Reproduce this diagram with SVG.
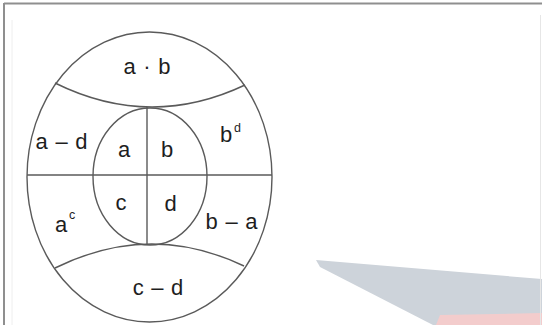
<svg xmlns="http://www.w3.org/2000/svg" width="542" height="325" viewBox="0 0 542 325">
<style>
.ln{fill:none;stroke:#5a5a5a;stroke-width:1.4}
.t{font-family:"Liberation Sans",Arial,sans-serif;font-size:22px;fill:#1e1e1e;text-anchor:middle}
.w{word-spacing:1.5px}
.sup{font-family:"Liberation Sans",Arial,sans-serif;font-size:12.5px;fill:#1e1e1e}
</style>
<rect width="542" height="325" fill="#fff"/>
<g id="backdrop">
<polygon points="316,260 542,279 542,325 433,325 320,267" fill="#cdd3da"/>
<polygon points="440,315 542,313 542,325 436,325" fill="#f3cccc"/>
</g>
<g id="frame">
<line x1="4" y1="3.5" x2="542" y2="3.5" stroke="#8f8f8f" stroke-width="2"/>
<line x1="4" y1="3" x2="4" y2="325" stroke="#8f8f8f" stroke-width="2"/>
<line x1="12" y1="20" x2="12" y2="325" stroke="#eeeeee" stroke-width="1"/>
<line x1="540.5" y1="15" x2="540.5" y2="325" stroke="#e6e6e6" stroke-width="1"/>
</g>
<g id="connectors">
<ellipse class="ln" cx="149.5" cy="177" rx="122.5" ry="145"/>
<path class="ln" d="M55,83 Q150,130 245,85"/>
<path class="ln" d="M55,268 Q150,221 244,266"/>
<line class="ln" x1="27" y1="175" x2="272" y2="175"/>
<ellipse class="ln" cx="150" cy="176.5" rx="57" ry="68.5"/>
<line class="ln" x1="147" y1="107" x2="147" y2="245"/>
</g>
<g id="n-ab"><text class="t w" x="147" y="74">a · b</text></g>
<g id="n-a-d"><text class="t w" x="61.5" y="149">a – d</text></g>
<g id="n-a"><text class="t" x="124" y="157">a</text></g>
<g id="n-b"><text class="t" x="167" y="157">b</text></g>
<g id="n-bd"><text class="t" x="226" y="142">b</text><text class="sup" x="234" y="131.5">d</text></g>
<g id="n-ac"><text class="t" x="61" y="232">a</text><text class="sup" x="69" y="218.5">c</text></g>
<g id="n-c"><text class="t" x="121" y="210">c</text></g>
<g id="n-d"><text class="t" x="170.5" y="211">d</text></g>
<g id="n-b-a"><text class="t w" x="231.5" y="228.5">b – a</text></g>
<g id="n-c-d"><text class="t w" x="158" y="295">c – d</text></g>
</svg>
